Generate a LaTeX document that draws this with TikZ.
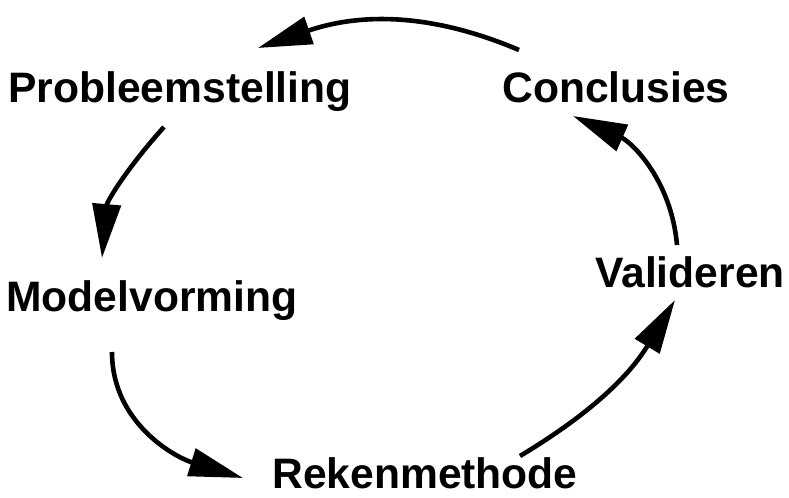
\documentclass[tikz,border=0pt]{standalone}
\usepackage{fontspec}
\setmainfont{Liberation Sans}
\usetikzlibrary{arrows.meta}
\usetikzlibrary{calc}

\begin{document}
\begin{tikzpicture}[x=0.5pt, y=-0.5pt,
		stap/.style={font=\fontsize{21.3}{25}\selectfont\bfseries, inner sep=0pt, anchor=base},
		pijl/.style={line width=2.3pt, -{Triangle[length=27pt, width=14pt]}}]
	\useasboundingbox (0,0) rectangle (789,498);
	%the steps
	\node[stap] (prob) at (180,102) {Probleemstelling};
	\node[stap] (concl) at (616,102) {Conclusies};
	\node[stap] (model) at (152,311) {Modelvorming};
	\node[stap] (valid) at (690,287) {Valideren};
	\node[stap] (reken) at (425,488) {Rekenmethode};
	%the cycle
	\draw[pijl] ($(concl.base)+(-97,-52)$) to[out=157, in=19] ($(prob.base)+(78,-54)$);
	\draw[pijl] ($(prob.base)+(-16,25)$) to[out=228, in=85] ($(model.base)+(-50,-53)$);
	\draw[pijl] ($(model.base)+(-40,41)$) to[out=-90, in=163] ($(reken.base)+(-182,-10)$);
	\draw[pijl] ($(reken.base)+(95,-32)$) to[out=31, in=239] ($(valid.base)+(-15,13)$);
	\draw[pijl] ($(valid.base)+(-13,-42)$) to[out=95, in=336] ($(concl.base)+(-43,14)$);
\end{tikzpicture}
\end{document}
